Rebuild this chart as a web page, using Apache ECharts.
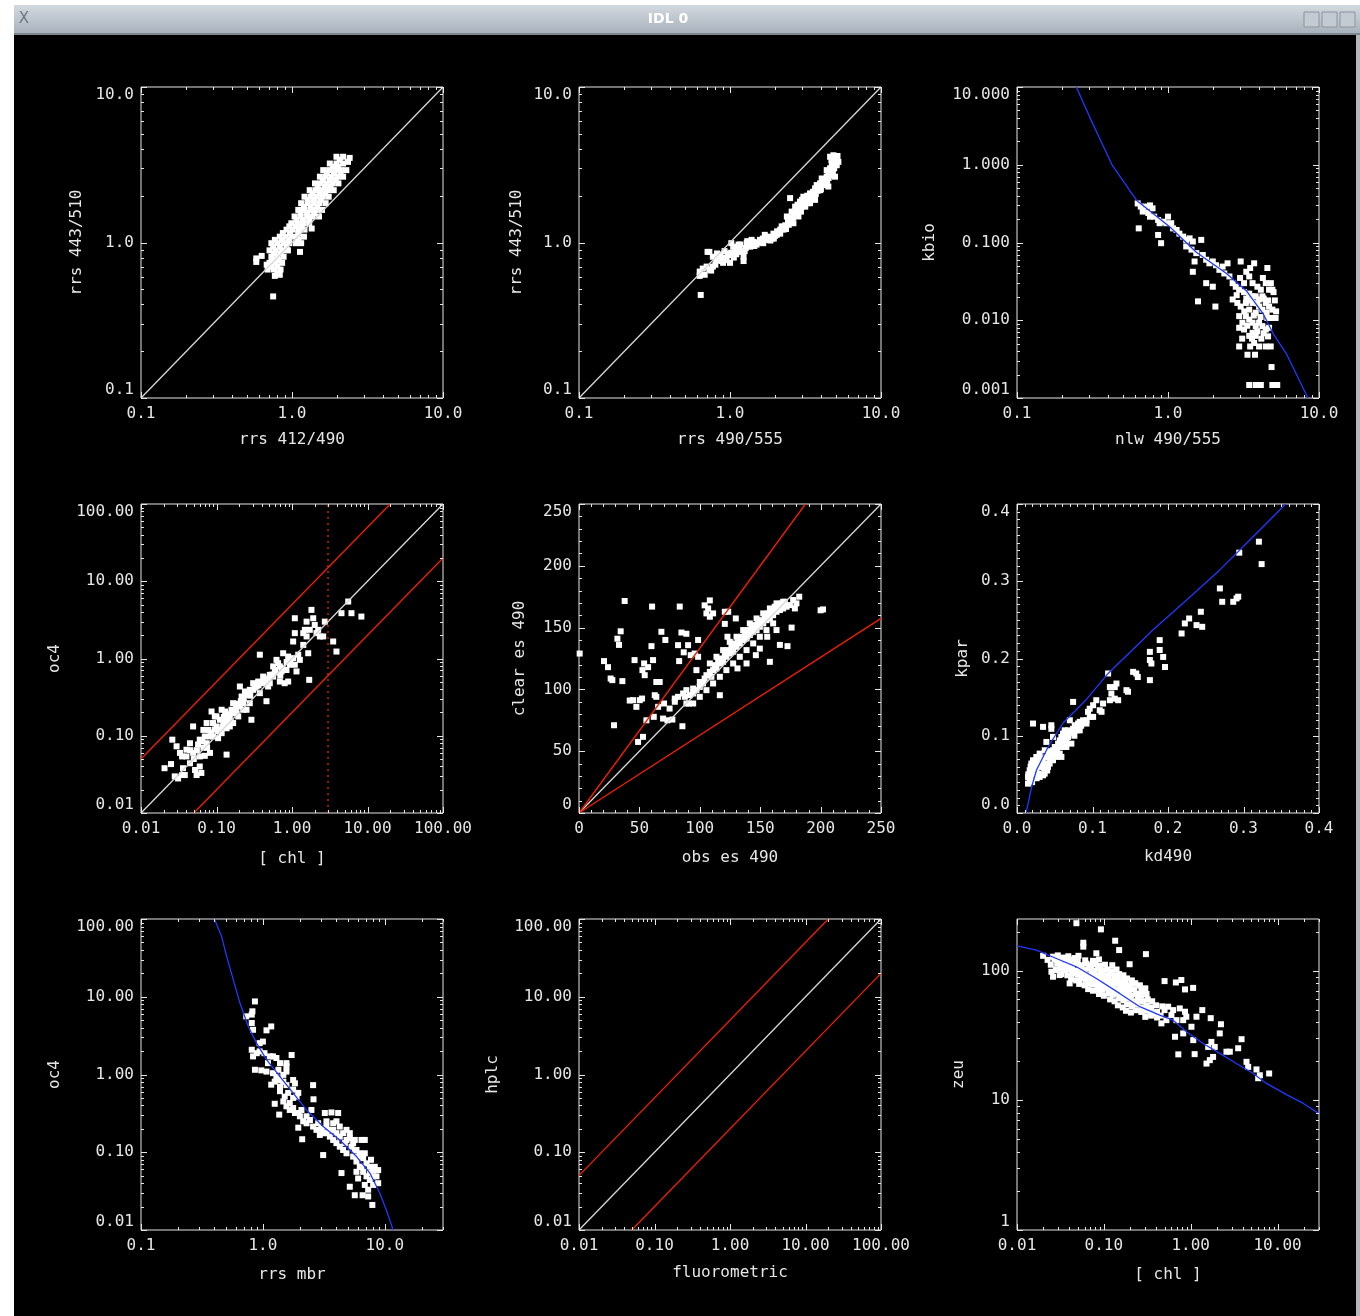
<!DOCTYPE html>
<html>
<head>
<meta charset="utf-8">
<script src="https://cdn.jsdelivr.net/npm/echarts@6/dist/echarts.min.js"></script>
<style>
  html, body { margin: 0; padding: 0; background: #fff; }
  #main { position: absolute; left: 0; top: 0; width: 1360px; height: 1316px; }
</style>
</head>
<body>
<div id="main"></div>
<script>
// ---- tick labels ----
const decadeLabels1 = [0.1, 1, 10]
const kbioLabels = [0.001, 0.01, 0.1, 1, 10]
const chlLabels = [0.01, 0.1, 1, 10, 100]
const esLabels = [0, 50, 100, 150, 200, 250]
const kLabels = [0, 0.1, 0.2, 0.3, 0.4]
const zeuXLabels = [0.01, 0.1, 1, 10]
const zeuYLabels = [1, 10, 100]

// ---- panel 1: rrs 412/490 vs rrs 443/510 ----
const p1Points = [
  [1.97, 3.56], [2.18, 3.56], [2.41, 3.50], [1.78, 3.22], [1.97, 3.22], [2.18, 3.22], [2.35, 3.30],
  [1.61, 2.92], [1.76, 2.92], [1.93, 2.92], [2.11, 2.92], [2.29, 2.92],
  [1.53, 2.65], [1.67, 2.65], [1.83, 2.65], [2.01, 2.65], [2.18, 2.65],
  [1.42, 2.40], [1.55, 2.40], [1.70, 2.40], [1.86, 2.40], [2.03, 2.40],
  [1.31, 2.17], [1.44, 2.17], [1.58, 2.17], [1.73, 2.17], [1.89, 2.17],
  [1.21, 1.97], [1.33, 1.97], [1.46, 1.97], [1.60, 1.97], [1.75, 1.97],
  [1.15, 1.79], [1.27, 1.79], [1.39, 1.79], [1.52, 1.79], [1.67, 1.79],
  [1.10, 1.62], [1.20, 1.62], [1.32, 1.62], [1.44, 1.62], [1.58, 1.62],
  [1.04, 1.47], [1.14, 1.47], [1.26, 1.47], [1.37, 1.47], [1.51, 1.47],
  [0.99, 1.33], [1.09, 1.33], [1.19, 1.33], [1.30, 1.33], [1.35, 1.23],
  [0.92, 1.21], [1.01, 1.21], [1.11, 1.21], [1.21, 1.21],
  [0.83, 1.09], [0.91, 1.09], [1.00, 1.09], [1.09, 1.09], [1.20, 1.09],
  [0.73, 0.99], [0.80, 0.99], [0.88, 0.99], [0.96, 0.99], [1.06, 0.99], [1.15, 0.99],
  [0.71, 0.89], [0.78, 0.89], [0.86, 0.89], [0.94, 0.89], [1.13, 0.87],
  [0.58, 0.79], [0.63, 0.82], [0.73, 0.81], [0.80, 0.81], [0.88, 0.81],
  [0.71, 0.74], [0.78, 0.74], [0.86, 0.74], [0.68, 0.72],
  [0.69, 0.67], [0.76, 0.67], [0.84, 0.67], [0.77, 0.61], [0.83, 0.62],
  [0.75, 0.45], [0.58, 0.75],
  [2.07, 3.40], [1.87, 3.07], [2.02, 3.07], [1.70, 2.78], [1.90, 2.78], [2.10, 2.78],
  [1.60, 2.52], [1.78, 2.52], [1.95, 2.52], [1.48, 2.28], [1.65, 2.28], [1.80, 2.28],
  [1.37, 2.07], [1.52, 2.07], [1.66, 2.07], [1.27, 1.88], [1.40, 1.88], [1.55, 1.88],
  [1.20, 1.70], [1.33, 1.70], [1.47, 1.70], [1.14, 1.54], [1.26, 1.54], [1.40, 1.54],
  [1.07, 1.40], [1.18, 1.40], [1.30, 1.40], [0.96, 1.27], [1.06, 1.27], [1.16, 1.27],
  [0.87, 1.15], [0.97, 1.15], [1.10, 1.15], [0.77, 1.04], [0.86, 1.04], [0.95, 1.04], [1.10, 1.04],
  [0.75, 0.94], [0.83, 0.94], [0.92, 0.94], [0.76, 0.85], [0.84, 0.85], [0.74, 0.77], [0.81, 0.77],
  [0.73, 0.70], [0.80, 0.70], [0.80, 0.64]
]

// ---- panel 2: rrs 490/555 vs rrs 443/510 ----
const p2Points = [
  [0.63, 0.65], [0.66, 0.68], [0.63, 0.61], [0.70, 0.70], [0.73, 0.67], [0.77, 0.70], [0.71, 0.87],
  [0.73, 0.87], [0.64, 0.46], [0.81, 0.77], [0.86, 0.83], [0.90, 0.74], [0.95, 0.77], [1.00, 0.74],
  [0.97, 0.83], [1.05, 0.94], [1.08, 0.89], [1.23, 0.81], [1.23, 0.76], [1.20, 0.87], [1.17, 0.97],
  [1.29, 0.99], [1.36, 0.94], [1.43, 1.01], [1.50, 0.97], [1.58, 1.04], [1.66, 0.99], [1.75, 1.04],
  [1.84, 1.09], [1.94, 1.14], [2.04, 1.12], [2.15, 1.21], [2.20, 1.27], [2.32, 1.29], [2.38, 1.47],
  [2.50, 1.44], [2.56, 1.58], [2.50, 1.93], [2.70, 1.70], [2.77, 1.62], [2.91, 1.83], [2.98, 1.70],
  [3.06, 1.97], [3.22, 1.93], [3.30, 1.79], [3.39, 2.07], [3.57, 2.02], [3.66, 2.23], [3.75, 2.34],
  [3.95, 2.40], [3.95, 2.17], [4.16, 2.52], [4.37, 2.65], [4.26, 2.34], [4.48, 2.85], [4.60, 3.00],
  [4.37, 2.92], [4.72, 3.22], [4.84, 3.39], [5.09, 3.47], [5.22, 3.30], [4.84, 3.64], [4.60, 3.56],
  [4.96, 2.65], [4.48, 2.29], [3.66, 1.88], [2.84, 1.47], [2.63, 1.33], [2.26, 1.21], [1.89, 1.06],
  [1.70, 1.12], [1.39, 1.04], [1.14, 0.97], [1.02, 0.99], [0.86, 0.77], [0.77, 0.81], [3.39, 1.79],
  [3.14, 1.83], [3.85, 2.29], [4.05, 2.58], [4.72, 2.92], [5.09, 3.14], [4.84, 3.07],
  [1.27, 0.92], [1.45, 0.95], [1.62, 1.00], [1.80, 1.05], [1.98, 1.10], [2.10, 1.17], [2.42, 1.36],
  [2.65, 1.52], [2.86, 1.62], [3.10, 1.76], [3.50, 1.95], [3.80, 2.15], [4.10, 2.40], [4.30, 2.55],
  [4.55, 2.75], [4.75, 3.10], [4.95, 3.30], [1.12, 0.90], [0.98, 0.85], [0.85, 0.80],
  [1.30, 1.02], [1.40, 0.98], [1.55, 1.00], [1.65, 1.06], [1.75, 1.08], [1.85, 1.03], [1.95, 1.06],
  [2.05, 1.18], [2.15, 1.14], [2.25, 1.25], [2.35, 1.22], [2.45, 1.30], [2.55, 1.40], [2.62, 1.45],
  [2.72, 1.55], [2.80, 1.75], [2.95, 1.58], [3.00, 1.88], [3.15, 1.70], [3.25, 2.00], [3.35, 1.86],
  [3.45, 1.95], [3.55, 2.12], [3.70, 2.05], [3.90, 2.30], [4.00, 2.20], [4.20, 2.45], [4.40, 2.45],
  [4.50, 2.60], [4.65, 2.70], [4.80, 2.85], [4.90, 3.00], [5.00, 3.50], [5.15, 3.60], [4.70, 3.40],
  [0.68, 0.62], [0.75, 0.66], [0.80, 0.72], [0.88, 0.76], [0.93, 0.80], [1.02, 0.86], [1.10, 0.84],
  [1.15, 0.93], [1.25, 0.88], [1.32, 0.96], [0.82, 0.85], [0.92, 0.88], [1.06, 0.80]
]

// ---- panel 3: nlw 490/555 vs kbio ----
const p3Points = [
  [0.63, 0.318], [0.66, 0.29], [0.72, 0.29], [0.76, 0.30], [0.68, 0.25], [0.74, 0.24], [0.79, 0.275],
  [0.76, 0.215], [0.81, 0.215], [0.86, 0.195], [0.88, 0.177], [1.00, 0.215], [0.975, 0.177], [0.93, 0.185],
  [1.05, 0.177], [1.08, 0.152], [0.64, 0.152], [0.86, 0.125], [0.90, 0.098], [1.14, 0.145], [1.19, 0.13],
  [1.26, 0.119], [1.32, 0.108], [1.39, 0.113], [1.46, 0.103], [1.66, 0.108], [1.32, 0.089], [1.43, 0.081],
  [1.54, 0.073], [1.50, 0.057], [1.46, 0.042], [1.70, 0.069], [1.79, 0.060], [1.88, 0.054], [1.98, 0.057],
  [2.08, 0.051], [2.19, 0.0445], [2.30, 0.049], [2.48, 0.054], [1.79, 0.030], [1.98, 0.027], [1.58, 0.0175],
  [2.06, 0.015], [2.36, 0.040], [2.55, 0.0366], [2.68, 0.030], [2.81, 0.027], [3.03, 0.057], [3.50, 0.047],
  [2.96, 0.0247], [3.19, 0.023], [3.45, 0.022], [3.63, 0.0203], [3.81, 0.0203], [4.01, 0.0185], [4.22, 0.0203],
  [4.44, 0.030], [4.67, 0.0247], [5.00, 0.023], [2.68, 0.0185], [2.88, 0.0167], [3.03, 0.015], [3.28, 0.0167],
  [3.45, 0.0137], [3.63, 0.0167], [3.81, 0.0125], [4.01, 0.015], [4.22, 0.0137], [4.44, 0.0167], [4.67, 0.015],
  [4.91, 0.0137], [4.79, 0.0107], [5.16, 0.0107], [4.55, 0.0107], [2.96, 0.0113], [3.11, 0.0093], [3.28, 0.0113],
  [3.45, 0.0102], [3.63, 0.0093], [3.81, 0.0084], [4.01, 0.0093], [4.22, 0.0084], [4.44, 0.0076], [4.67, 0.008],
  [3.63, 0.0069], [3.81, 0.0063], [3.72, 0.0051], [2.96, 0.008], [3.19, 0.0076], [3.45, 0.0063], [2.96, 0.0046],
  [3.50, 0.0046], [4.01, 0.0046], [4.44, 0.0046], [4.79, 0.0046], [3.36, 0.0036], [3.77, 0.0036], [4.85, 0.0025],
  [3.45, 0.00147], [3.81, 0.00147], [4.12, 0.00147], [4.91, 0.00147], [5.29, 0.00147], [3.72, 0.054], [4.55, 0.047],
  [3.45, 0.0366], [3.63, 0.030], [3.91, 0.027], [4.12, 0.0247], [4.91, 0.0247], [3.19, 0.030],
  [3.3, 0.019], [3.55, 0.018], [3.9, 0.0165], [4.3, 0.019], [4.6, 0.018], [3.2, 0.013], [3.7, 0.0115],
  [4.1, 0.011], [4.5, 0.0125], [3.35, 0.0085], [3.9, 0.0072], [4.3, 0.0068], [3.1, 0.0058], [3.6, 0.0058],
  [4.15, 0.0058], [4.6, 0.0062], [2.85, 0.021], [3.0, 0.035], [3.3, 0.042], [4.25, 0.035], [4.8, 0.03],
  [5.1, 0.018], [5.2, 0.013]
]
const p3Fit = [
  [0.247, 10], [0.303, 4.1], [0.362, 1.96], [0.428, 0.98], [0.618, 0.35], [1.03, 0.158], [1.54, 0.075],
  [2.44, 0.040], [3.3, 0.024], [4.26, 0.0122], [4.96, 0.0068], [6.08, 0.0037], [8.45, 0.001]
]

// ---- panel 4: [chl] vs oc4 ----
const p4Points = [
  [0.0205, 0.038], [0.025, 0.043], [0.026, 0.089], [0.0296, 0.073], [0.028, 0.0298], [0.031, 0.028],
  [0.035, 0.031], [0.038, 0.031], [0.035, 0.054], [0.036, 0.038], [0.040, 0.054], [0.0445, 0.044],
  [0.049, 0.060], [0.049, 0.132], [0.052, 0.036], [0.0545, 0.031], [0.057, 0.077], [0.060, 0.054],
  [0.063, 0.033], [0.067, 0.07], [0.070, 0.098], [0.074, 0.080], [0.078, 0.119], [0.086, 0.206],
  [0.082, 0.06], [0.090, 0.098], [0.090, 0.146], [0.100, 0.132], [0.105, 0.093], [0.111, 0.161],
  [0.117, 0.108], [0.123, 0.146], [0.13, 0.206], [0.136, 0.125], [0.136, 0.057], [0.143, 0.161],
  [0.150, 0.178], [0.158, 0.217], [0.166, 0.146], [0.175, 0.196], [0.184, 0.239], [0.194, 0.178],
  [0.204, 0.239], [0.215, 0.322], [0.204, 0.434], [0.226, 0.264], [0.25, 0.217], [0.238, 0.374],
  [0.276, 0.393], [0.29, 0.161], [0.306, 0.479], [0.339, 0.434], [0.357, 0.503], [0.375, 1.12],
  [0.395, 0.479], [0.415, 0.584], [0.459, 0.28], [0.483, 0.434], [0.508, 0.614], [0.563, 0.584],
  [0.593, 0.71], [0.623, 0.96], [0.655, 0.87], [0.690, 0.503], [0.726, 0.68], [0.764, 1.17],
  [0.80, 0.479], [0.845, 0.71], [0.89, 0.503], [0.936, 0.83], [1.036, 1.66], [1.09, 0.83],
  [1.09, 3.32], [1.147, 0.68], [1.09, 2.13], [1.21, 1.12], [1.27, 0.96], [1.41, 1.5], [1.48, 2.35],
  [1.56, 3.0], [1.64, 1.17], [1.69, 0.529], [1.56, 1.93], [1.81, 4.26], [1.91, 3.32], [2.0, 2.72],
  [2.11, 2.13], [2.22, 2.35], [2.34, 1.93], [2.59, 1.93], [2.72, 3.0], [3.51, 1.66], [3.88, 1.23],
  [4.52, 3.86], [5.55, 5.46], [6.13, 3.86], [8.3, 3.49], [0.150, 0.132], [0.111, 0.119], [0.082, 0.098],
  [0.060, 0.089], [0.0445, 0.080], [0.074, 0.146], [0.095, 0.178], [0.117, 0.217], [0.166, 0.264],
  [0.25, 0.339], [0.306, 0.393], [0.459, 0.479], [0.563, 0.79], [0.89, 1.06], [0.69, 0.79], [1.036, 1.01],
  [1.41, 2.13], [1.72, 2.35], [0.040, 0.066], [0.0328, 0.060], [0.067, 0.119], [0.100, 0.178],
  [0.13, 0.146], [0.184, 0.196], [0.226, 0.217], [0.276, 0.264], [0.375, 0.356], [0.508, 0.479],
  [0.055, 0.065], [0.065, 0.085], [0.075, 0.07], [0.085, 0.11], [0.095, 0.12], [0.105, 0.115], [0.12, 0.13],
  [0.125, 0.175], [0.14, 0.19], [0.155, 0.15], [0.16, 0.2], [0.18, 0.22], [0.19, 0.26], [0.21, 0.28],
  [0.23, 0.3], [0.26, 0.36], [0.28, 0.33], [0.32, 0.42], [0.36, 0.45], [0.42, 0.5], [0.48, 0.55],
  [0.55, 0.62], [0.6, 0.66], [0.7, 0.6], [0.75, 0.75], [0.85, 0.9], [0.95, 0.95], [0.05, 0.05],
  [0.06, 0.04], [0.045, 0.065], [0.07, 0.055]
]
const chlOneToOne = [[0.01, 0.01], [100, 100]]
const chlUpper = [[0.01, 0.05], [20, 100]]
const chlLower = [[0.05, 0.01], [100, 20]]
const chlCut = [[3, 0.01], [3, 100]]

// ---- panel 5: obs es 490 vs clear es 490 ----
const p5Points = [
  [0.55, 129], [20.7, 122.9], [24, 118], [26.2, 108.8], [27.6, 107.5], [29, 71], [37.8, 171.5],
  [31.8, 141], [33.1, 136], [34.5, 147], [35.9, 106.7], [42, 91], [46, 123.7], [44.7, 91.3], [47.5, 85.9],
  [48.9, 57.5], [50.3, 91.3], [52.2, 92.6], [53, 61.6], [52.5, 115.6], [53.9, 121], [54.4, 111.5],
  [55.8, 75], [57.2, 118], [60, 135], [60.5, 167], [61.3, 123.7], [61.9, 77.8], [62.7, 95.3], [64, 106],
  [64, 94], [65.5, 85.9], [66.8, 106], [68.2, 146.6], [70.4, 88.6], [71.5, 140], [69.6, 76.4], [73.2, 75],
  [75, 84.5], [77.3, 75.6], [79.3, 92.6], [82, 135.8], [82.9, 122.9], [83.4, 167], [84.8, 146], [85.6, 70.2],
  [86.7, 130], [87.6, 94], [88.9, 145], [90.3, 135.8], [91.1, 88.6], [92.5, 127.7], [94.5, 96.7], [95.8, 129],
  [97.2, 115.6], [98.6, 126.4], [100, 106], [98.6, 140], [104, 168], [105.5, 161.5], [106.9, 165.5],
  [108.3, 172], [108.3, 158.8], [111, 161.5], [116.6, 95.3], [120.7, 153], [120.7, 162.8], [123.5, 162.8],
  [129.8, 157.4], [131.2, 117], [122.9, 142.6], [158, 122.3], [155.8, 142.6], [163.5, 148], [176, 150],
  [172.6, 135], [200, 164], [202, 164.7],
  [79.3, 90], [82, 94], [86.2, 96.7], [88.9, 99.4], [91.7, 95.3], [94.5, 100.7], [97.2, 99.4], [100, 102],
  [102.7, 104.8], [104, 108.8], [105.5, 111.5], [108.3, 114.2], [109.6, 110.2], [111, 115.6], [112.4, 119.6],
  [113.8, 117], [115.2, 122.3], [116.6, 121], [118, 125], [119.3, 122.3], [120.7, 127.7], [122, 126.4],
  [123.5, 131.8], [124.8, 129], [126.2, 134.5], [127.6, 130.5], [129, 137.2], [130.4, 134.5], [131.7, 139.9],
  [133.1, 137.2], [134.5, 142.6], [135.9, 139.9], [137.3, 145.3], [138.7, 141.2], [140, 148], [141.4, 144],
  [142.8, 149.3], [144.2, 146.6], [145.6, 152], [147, 148], [148.3, 154.7], [149.7, 150.7], [151, 156],
  [152.5, 153.4], [153.8, 158.8], [155.2, 156], [156.6, 161.5], [158, 157.4], [159.4, 164.2], [160.7, 160],
  [162, 166.9], [163.5, 162.8], [164.9, 168.2], [166.3, 164.2], [167.6, 169.6], [169, 165.5], [170.4, 170.9],
  [171.8, 166.9], [174.6, 168.2], [177.3, 172.3], [180, 169.6], [182.3, 175], [178.7, 165.5], [160.7, 153.4],
  [155.2, 148], [149.7, 142.6], [144.2, 137.2], [138.7, 131.8], [133.1, 126.4], [127.6, 121], [122, 115.6],
  [116.6, 110.2], [111, 104.8], [105.5, 99.4], [100, 94], [94.5, 88.6], [88.9, 88.6], [108.3, 121],
  [113.8, 126.4], [119.3, 131.8], [124.8, 138.5], [130.4, 142.6], [135.9, 148], [141.4, 153.4], [147, 157.4],
  [152.5, 161.5], [158, 165.5], [163.5, 169.6], [169, 170.9], [149.7, 133], [166.3, 136], [146.4, 127.7],
  [138.7, 121]
]
const esOneToOne = [[0, 0], [250, 250]]
const esUpper = [[0, 0], [187.5, 250]]
const esLower = [[0, 0], [250, 157.5]]

// ---- panel 6: kd490 vs kpar ----
const p6Points = [
  [0.0212, 0.1158], [0.0345, 0.1115], [0.0455, 0.1136], [0.0455, 0.109], [0.0146, 0.038], [0.0146, 0.0467],
  [0.0168, 0.0553], [0.019, 0.064], [0.0212, 0.0683], [0.0234, 0.0596], [0.0256, 0.0726], [0.0278, 0.051],
  [0.0300, 0.0769], [0.0323, 0.0596], [0.0345, 0.0488], [0.0367, 0.0812], [0.0367, 0.051], [0.0389, 0.092],
  [0.041, 0.0726], [0.0433, 0.064], [0.0455, 0.0769], [0.0477, 0.0812], [0.05, 0.0855], [0.052, 0.0726],
  [0.0544, 0.0898], [0.0566, 0.094], [0.0588, 0.0726], [0.0588, 0.0985], [0.061, 0.1028], [0.0632, 0.107],
  [0.0654, 0.092], [0.0676, 0.0985], [0.07, 0.12], [0.072, 0.0898], [0.0743, 0.109], [0.0765, 0.1136],
  [0.0787, 0.107], [0.0809, 0.1158], [0.0743, 0.1438], [0.0831, 0.118], [0.0875, 0.12], [0.092, 0.1158],
  [0.094, 0.131], [0.0963, 0.1244], [0.0963, 0.135], [0.1008, 0.1395], [0.105, 0.146], [0.1096, 0.133],
  [0.112, 0.131], [0.114, 0.1417], [0.1207, 0.1806], [0.123, 0.163], [0.123, 0.146], [0.125, 0.1546],
  [0.1295, 0.163], [0.1295, 0.148], [0.1317, 0.1676], [0.134, 0.146], [0.145, 0.159], [0.147, 0.157],
  [0.1538, 0.1827], [0.158, 0.1806], [0.16, 0.176], [0.176, 0.2086], [0.176, 0.198], [0.176, 0.172],
  [0.178, 0.1935], [0.189, 0.2238], [0.189, 0.211], [0.1936, 0.202], [0.196, 0.189], [0.218, 0.2324],
  [0.2223, 0.2454], [0.228, 0.2518], [0.2378, 0.2432], [0.2435, 0.2605], [0.2453, 0.241], [0.2687, 0.2907],
  [0.2718, 0.2734], [0.2864, 0.2734], [0.2908, 0.2778], [0.293, 0.28], [0.2944, 0.337], [0.3204, 0.3512],
  [0.324, 0.3222], [0.0168, 0.0423], [0.0212, 0.051], [0.0256, 0.0553], [0.03, 0.0467], [0.041, 0.0596],
  [0.0477, 0.0683], [0.0566, 0.0769], [0.0654, 0.0855], [0.0389, 0.064], [0.061, 0.0855], [0.0477, 0.0985],
  [0.0676, 0.107], [0.0831, 0.107], [0.092, 0.12], [0.1008, 0.1244],
  [0.015, 0.05], [0.018, 0.045], [0.02, 0.058], [0.024, 0.052], [0.027, 0.062], [0.029, 0.068],
  [0.032, 0.07], [0.034, 0.065], [0.036, 0.058], [0.038, 0.072], [0.042, 0.08], [0.044, 0.07],
  [0.047, 0.075], [0.05, 0.078], [0.053, 0.082], [0.057, 0.086], [0.06, 0.093], [0.064, 0.1],
  [0.068, 0.102], [0.072, 0.104], [0.076, 0.1], [0.08, 0.11], [0.085, 0.113], [0.018, 0.06],
  [0.022, 0.064], [0.026, 0.045], [0.031, 0.05], [0.04, 0.055], [0.02, 0.04]
]
const p6Fit = [
  [0.012, 0], [0.0194, 0.034], [0.026, 0.056], [0.0415, 0.086], [0.061, 0.1165], [0.092, 0.147],
  [0.121, 0.181], [0.180, 0.237], [0.225, 0.276], [0.269, 0.315], [0.313, 0.358], [0.356, 0.40]
]

// ---- panel 7: rrs mbr vs oc4 ----
const p7Points = [
  [0.86, 8.7], [0.82, 6.5], [0.81, 5.9], [0.73, 5.6], [0.81, 4.6], [0.83, 3.76], [1.17, 4.15], [1.07, 3.7],
  [1.0, 2.65], [0.94, 2.53], [0.81, 2.08], [0.89, 1.88], [0.83, 1.71], [0.94, 1.98], [1.03, 1.88], [1.14, 1.71],
  [1.21, 1.71], [1.29, 1.63], [1.10, 1.40], [1.38, 1.40], [1.56, 1.40], [1.72, 1.78], [0.86, 1.15], [0.97, 1.13],
  [1.07, 1.09], [1.21, 1.04], [1.34, 1.15], [1.56, 1.27], [1.56, 1.09], [1.47, 0.99], [1.25, 0.81], [1.17, 0.74],
  [1.38, 0.70], [1.56, 0.73], [1.77, 0.85], [1.83, 0.77], [1.38, 0.61], [1.61, 0.58], [1.77, 0.64], [1.89, 0.52],
  [1.95, 0.58], [2.58, 0.73], [1.25, 0.42], [1.36, 0.305], [1.56, 0.39], [1.66, 0.43], [1.77, 0.37], [1.95, 0.32],
  [2.07, 0.35], [2.28, 0.29], [2.5, 0.35], [2.6, 0.48], [2.1, 0.147], [1.95, 0.207], [2.14, 0.25], [2.43, 0.26],
  [2.84, 0.236], [3.22, 0.32], [3.65, 0.325], [4.14, 0.32], [3.02, 0.20], [3.32, 0.214], [3.54, 0.194],
  [3.77, 0.236], [4.01, 0.176], [4.27, 0.214], [4.55, 0.176], [4.85, 0.144], [5.16, 0.151], [5.5, 0.131],
  [5.85, 0.107], [6.43, 0.144], [6.85, 0.144], [6.23, 0.097], [6.64, 0.084], [7.07, 0.072], [7.53, 0.065],
  [8.02, 0.059], [8.27, 0.065], [8.54, 0.049], [8.82, 0.040], [8.02, 0.038], [7.53, 0.044], [7.07, 0.049],
  [6.64, 0.056], [6.23, 0.065], [5.85, 0.076], [5.5, 0.088], [5.33, 0.118], [4.85, 0.097], [4.41, 0.054],
  [3.12, 0.092], [4.55, 0.107], [4.27, 0.118], [4.01, 0.131], [3.77, 0.144], [3.54, 0.159], [3.32, 0.176],
  [3.12, 0.176], [2.93, 0.167], [5.16, 0.036], [5.67, 0.028], [6.57, 0.028], [7.3, 0.033], [7.9, 0.021],
  [7.3, 0.027], [6.85, 0.038], [6.04, 0.046], [6.43, 0.065], [5.85, 0.056], [7.53, 0.054], [8.82, 0.059],
  [7.7, 0.08], [3.77, 0.194], [3.32, 0.25], [4.01, 0.25], [4.85, 0.194], [5.16, 0.176], [5.67, 0.144],
  [4.27, 0.159], [4.7, 0.131], [5.67, 0.107], [6.04, 0.088], [6.85, 0.097], [8.02, 0.049], [2.75, 0.194],
  [2.58, 0.214], [2.28, 0.236], [2.01, 0.29], [1.83, 0.32], [1.66, 0.35], [1.51, 0.52], [1.47, 0.45],
  [1.77, 0.50], [1.38, 0.85], [1.29, 0.94], [1.47, 0.81]
]
const p7Fit = [
  [0.40, 100], [0.458, 59.8], [0.504, 33], [0.571, 16.6], [0.648, 8.29], [0.758, 4.15], [0.887, 2.53],
  [1.07, 1.55], [1.38, 0.94], [1.77, 0.575], [2.28, 0.35], [3.12, 0.214], [4.27, 0.144], [5.86, 0.088],
  [7.54, 0.054], [9.1, 0.0297], [10.3, 0.018], [11.7, 0.01]
]

// ---- panel 9: [chl] vs zeu ----
const p9Points = [
  [0.0483, 232], [0.0925, 208], [0.135, 170], [0.058, 164], [0.058, 153], [0.15, 144], [0.082, 136],
  [0.305, 134], [0.198, 112], [0.02, 130], [0.026, 89.7], [0.0284, 101], [0.5, 83], [0.675, 81], [0.78, 84.6],
  [0.86, 71.6], [1.066, 73.6], [1.36, 49.6], [1.165, 44.1], [1.7, 43], [2.23, 38.6], [2.16, 32.8],
  [3.85, 29.6], [3.52, 25.2], [2.82, 23.7], [2.58, 23.7], [0.72, 22.6], [1.11, 22.7], [1.52, 19.2],
  [1.66, 20.4], [1.81, 21.6], [1.89, 25.8], [1.73, 28.2], [1.59, 25.8], [4.39, 19.8], [4.59, 18.1],
  [5.72, 17.3], [6.25, 15.6], [5.98, 14.8], [8.0, 16.1], [0.66, 30.9], [0.82, 32.8], [1.02, 36.9],
  [1.07, 29.1], [0.82, 41.5], [0.89, 44.1], [0.685, 41.5], [0.525, 41.5], [0.46, 39.2], [0.5, 49.6],
  [0.627, 49.6], [0.748, 51.1], [0.86, 48.2], [0.6, 45.4], [0.55, 52.7],
  [0.026, 128], [0.0295, 131], [0.034, 126], [0.039, 129], [0.046, 125], [0.051, 130],
  [0.0225, 121], [0.027, 123], [0.0305, 120], [0.035, 122], [0.04, 119], [0.045, 121], [0.05, 118],
  [0.061, 120], [0.075, 119], [0.088, 122],
  [0.0245, 111], [0.029, 113], [0.033, 110], [0.0375, 112], [0.043, 109], [0.049, 112], [0.055, 110],
  [0.063, 113], [0.071, 110], [0.08, 112], [0.09, 109], [0.103, 111], [0.125, 110],
  [0.028, 102], [0.032, 104], [0.036, 101], [0.041, 103], [0.047, 100], [0.053, 103], [0.06, 101],
  [0.068, 104], [0.077, 100], [0.086, 103], [0.097, 100], [0.11, 102], [0.123, 99], [0.14, 102],
  [0.0325, 94], [0.038, 92], [0.043, 95], [0.05, 93], [0.057, 95], [0.064, 92], [0.072, 95], [0.081, 92],
  [0.092, 94], [0.104, 92], [0.117, 95], [0.132, 92], [0.15, 94], [0.168, 92],
  [0.042, 86], [0.048, 84], [0.055, 87], [0.062, 85], [0.07, 87], [0.079, 84], [0.089, 86], [0.1, 84],
  [0.113, 87], [0.127, 84], [0.143, 86], [0.162, 84], [0.185, 87], [0.21, 84],
  [0.052, 79], [0.06, 77], [0.068, 80], [0.077, 78], [0.087, 80], [0.098, 77], [0.11, 79], [0.124, 77],
  [0.14, 80], [0.158, 77], [0.178, 79], [0.2, 77], [0.23, 80], [0.26, 77],
  [0.066, 72], [0.075, 70], [0.085, 73], [0.096, 71], [0.108, 73], [0.122, 70], [0.137, 72], [0.155, 70],
  [0.175, 73], [0.197, 70], [0.225, 72], [0.27, 70], [0.3, 73],
  [0.088, 66], [0.1, 64], [0.113, 67], [0.127, 65], [0.143, 67], [0.16, 64], [0.18, 66], [0.205, 64],
  [0.235, 66], [0.27, 64], [0.31, 66],
  [0.118, 60], [0.133, 58], [0.15, 61], [0.168, 59], [0.19, 61], [0.215, 58], [0.245, 60], [0.28, 58],
  [0.32, 60], [0.36, 58],
  [0.145, 54], [0.165, 52], [0.185, 55], [0.21, 53], [0.24, 55], [0.275, 52], [0.31, 54], [0.35, 52],
  [0.4, 54], [0.47, 53],
  [0.18, 49], [0.205, 47.5], [0.235, 49.5], [0.27, 48], [0.31, 49], [0.355, 47], [0.41, 48],
  [0.3, 44], [0.35, 45], [0.41, 43.5], [0.45, 45], [0.0249, 98], [0.0404, 79.7], [0.031, 92.4]
]
const p9Fit = [
  [0.01, 155], [0.0167, 144], [0.0284, 124], [0.0483, 107], [0.082, 87], [0.152, 66.7], [0.259, 52.7],
  [0.44, 45.4], [0.627, 41.5], [0.893, 33.8], [1.39, 27.4], [2.16, 23], [3.36, 19.2], [5.24, 16.1],
  [7.46, 13.5], [12.8, 11.0], [19.6, 9.5], [30, 7.9]
]

const rrsOneToOne = [[0.1, 0.1], [10, 10]]

// ---- styling ----
const INK = '#e6e6e6'
const FONT = 'DejaVu Sans Mono'
const RED = '#f02000'
const BLUE = '#2038ff'
const GRAYLINE = '#d8d8d8'

const cols = [141, 579, 1017]
const rows = [{ top: 87, height: 311 }, { top: 504, height: 309 }, { top: 919, height: 311 }]

function logTicks(min, max) {
  const out = []
  for (let e = Math.floor(Math.log10(min)) - 1; e <= Math.ceil(Math.log10(max)); e++) {
    for (let m = 1; m <= 9; m++) {
      const v = m * Math.pow(10, e)
      if (v >= min * 0.9999 && v <= max * 1.0001) out.push([v, m === 1])
    }
  }
  return out
}
function linTicks(min, max, minor, major) {
  const out = []
  const n = Math.round((max - min) / minor)
  for (let i = 0; i <= n; i++) {
    const v = min + i * minor
    out.push([v, Math.abs(v / major - Math.round(v / major)) < 1e-6])
  }
  return out
}
function fmt(labels, digits) {
  return v => labels.some(l => Math.abs(l - v) <= 1e-6 * Math.max(1e-3, Math.abs(l))) ? v.toFixed(digits) : ''
}

const panels = [
  { x: [0.1, 10], y: [0.1, 10], log: true, xl: decadeLabels1, yl: decadeLabels1, xd: 1, yd: 1, xn: 'rrs 412/490', yn: 'rrs 443/510', xg: 34, yg: 56 },
  { x: [0.1, 10], y: [0.1, 10], log: true, xl: decadeLabels1, yl: decadeLabels1, xd: 1, yd: 1, xn: 'rrs 490/555', yn: 'rrs 443/510', xg: 34, yg: 54 },
  { x: [0.1, 10], y: [0.001, 10], log: true, xl: decadeLabels1, yl: kbioLabels, xd: 1, yd: 3, xn: 'nlw 490/555', yn: 'kbio', xg: 34, yg: 79 },
  { x: [0.01, 100], y: [0.01, 100], log: true, xl: chlLabels, yl: chlLabels, xd: 2, yd: 2, xn: '[ chl ]', yn: 'oc4', xg: 38, yg: 78 },
  { x: [0, 250], y: [0, 250], log: false, step: [10, 50], xl: esLabels, yl: esLabels, xd: 0, yd: 0, xn: 'obs es 490', yn: 'clear es 490', xg: 37, yg: 51 },
  { x: [0, 0.4], y: [0, 0.4], log: false, step: [0.01, 0.1], xl: kLabels, yl: kLabels, xd: 1, yd: 1, xn: 'kd490', yn: 'kpar', xg: 36, yg: 46 },
  { x: [0.1, 30], y: [0.01, 100], log: true, xl: decadeLabels1, yl: chlLabels, xd: 1, yd: 2, xn: 'rrs mbr', yn: 'oc4', xg: 37, yg: 78 },
  { x: [0.01, 100], y: [0.01, 100], log: true, xl: chlLabels, yl: chlLabels, xd: 2, yd: 2, xn: 'fluorometric', yn: 'hplc', xg: 35, yg: 78 },
  { x: [0.01, 30], y: [1, 250], log: true, xl: zeuXLabels, yl: zeuYLabels, xd: 2, yd: 0, xn: '[ chl ]', yn: 'zeu', xg: 37, yg: 50, noTopAlign: true }
]

const grids = [], xAxes = [], yAxes = [], series = []
const nameStyle = { color: INK, fontFamily: FONT, fontSize: 16 }

panels.forEach((p, i) => {
  const r = rows[Math.floor(i / 3)]
  grids.push({ left: cols[i % 3], top: r.top, width: 302, height: r.height, show: true,
    borderColor: INK, borderWidth: 1, backgroundColor: 'transparent' })
  const base = { gridIndex: i, axisLine: { show: false }, axisTick: { show: false }, splitLine: { show: false } }
  const typed = p.log ? { type: 'log', logBase: 10 } : { type: 'value' }
  xAxes.push(Object.assign({}, base, typed, {
    min: p.x[0], max: p.x[1], interval: p.log ? undefined : p.step[1],
    name: p.xn, nameLocation: 'middle', nameGap: p.xg, nameTextStyle: nameStyle,
    axisLabel: { color: INK, fontFamily: FONT, fontSize: 16, margin: 8, showMinLabel: true, showMaxLabel: true,
      formatter: fmt(p.xl, p.xd) }
  }))
  yAxes.push(Object.assign({}, base, typed, {
    min: p.y[0], max: p.y[1], interval: p.log ? undefined : p.step[1],
    name: p.yn, nameLocation: 'middle', nameGap: p.yg, nameRotate: 90, nameTextStyle: nameStyle,
    axisLabel: { color: INK, fontFamily: FONT, fontSize: 16, margin: 7, showMinLabel: true, showMaxLabel: true,
      verticalAlignMinLabel: 'bottom', verticalAlignMaxLabel: p.noTopAlign ? null : 'top',
      formatter: fmt(p.yl, p.yd) }
  }))

  // box ticks on all four sides
  const xt = p.log ? logTicks(p.x[0], p.x[1]) : linTicks(p.x[0], p.x[1], p.step[0], p.step[1])
  const yt = p.log ? logTicks(p.y[0], p.y[1]) : linTicks(p.y[0], p.y[1], p.step[0], p.step[1])
  const tickData = []
  xt.forEach(t => tickData.push([t[0], p.y[0], t[1] ? 0 : 1]))
  yt.forEach(t => tickData.push([p.x[0], t[0], t[1] ? 2 : 3]))
  series.push({
    type: 'custom', xAxisIndex: i, yAxisIndex: i, silent: true, clip: false, z: 5, data: tickData,
    renderItem(params, api) {
      const pt = api.coord([api.value(0), api.value(1)])
      const lo = api.coord([p.x[0], p.y[0]])
      const hi = api.coord([p.x[1], p.y[1]])
      const k = api.value(2)
      const len = k % 2 === 0 ? 6 : 3
      const st = { stroke: INK, lineWidth: 1 }
      if (k < 2) {
        const x = Math.round(pt[0]) + 0.5
        return { type: 'group', children: [
          { type: 'line', shape: { x1: x, y1: lo[1], x2: x, y2: lo[1] - len }, style: st },
          { type: 'line', shape: { x1: x, y1: hi[1], x2: x, y2: hi[1] + len }, style: st }
        ] }
      }
      const y = Math.round(pt[1]) + 0.5
      return { type: 'group', children: [
        { type: 'line', shape: { x1: lo[0], y1: y, x2: lo[0] + len, y2: y }, style: st },
        { type: 'line', shape: { x1: hi[0], y1: y, x2: hi[0] - len, y2: y }, style: st }
      ] }
    }
  })
})

function dots(i, data) {
  return { type: 'scatter', xAxisIndex: i, yAxisIndex: i, data, symbol: 'rect', symbolSize: 6,
    itemStyle: { color: '#ffffff', opacity: 1 }, silent: true, z: 3 }
}
function line(i, data, color, type) {
  return { type: 'line', xAxisIndex: i, yAxisIndex: i, data, showSymbol: false, symbol: 'none', silent: true,
    lineStyle: { color, width: 1.3, type: type || 'solid' }, z: 4 }
}

series.push(dots(0, p1Points), line(0, rrsOneToOne, GRAYLINE))
series.push(dots(1, p2Points), line(1, rrsOneToOne, GRAYLINE))
series.push(dots(2, p3Points), line(2, p3Fit, BLUE))
series.push(dots(3, p4Points), line(3, chlOneToOne, GRAYLINE), line(3, chlUpper, RED), line(3, chlLower, RED),
  line(3, chlCut, RED, [2, 4]))
series.push(dots(4, p5Points), line(4, esOneToOne, GRAYLINE), line(4, esUpper, RED), line(4, esLower, RED))
series.push(dots(5, p6Points), line(5, p6Fit, BLUE))
series.push(dots(6, p7Points), line(6, p7Fit, BLUE))
series.push(line(7, chlOneToOne, GRAYLINE), line(7, chlUpper, RED), line(7, chlLower, RED))
series.push(dots(8, p9Points), line(8, p9Fit, BLUE))

const chart = echarts.init(document.getElementById('main'))
chart.setOption({
  backgroundColor: '#000000',
  animation: false,
  grid: grids,
  xAxis: xAxes,
  yAxis: yAxes,
  series,
  graphic: [
    { type: 'rect', shape: { x: 0, y: 0, width: 14, height: 1316 }, style: { fill: '#ffffff' } },
    { type: 'rect', shape: { x: 0, y: 0, width: 1360, height: 5 }, style: { fill: '#ffffff' } },
    { type: 'rect', shape: { x: 1356, y: 34, width: 4, height: 1282 }, style: { fill: '#b4b8bc' } },
    { type: 'rect', shape: { x: 14, y: 5, width: 1346, height: 29 },
      style: { fill: new echarts.graphic.LinearGradient(0, 0, 0, 1, [
        { offset: 0, color: '#d3d9df' }, { offset: 1, color: '#a7b1bb' }]) } },
    { type: 'rect', shape: { x: 14, y: 33, width: 1346, height: 2 }, style: { fill: '#7d8790' } },
    { type: 'text', x: 24, y: 19, style: { text: 'X', fill: '#6d7680', font: '15px "DejaVu Sans"',
      align: 'center', verticalAlign: 'middle' } },
    { type: 'text', x: 668, y: 19, style: { text: 'IDL 0', fill: '#ffffff', font: 'bold 14px "DejaVu Sans"',
      align: 'center', verticalAlign: 'middle', textShadowColor: '#3a3f44', textShadowOffsetX: 1, textShadowOffsetY: 1 } },
    { type: 'rect', shape: { x: 1304, y: 12, width: 15, height: 15 }, style: { fill: '#c3cad1', stroke: '#8b959f' } },
    { type: 'rect', shape: { x: 1322, y: 12, width: 15, height: 15 }, style: { fill: '#c3cad1', stroke: '#8b959f' } },
    { type: 'rect', shape: { x: 1340, y: 12, width: 15, height: 15 }, style: { fill: '#c3cad1', stroke: '#8b959f' } }
  ]
})
</script>
</body>
</html>
